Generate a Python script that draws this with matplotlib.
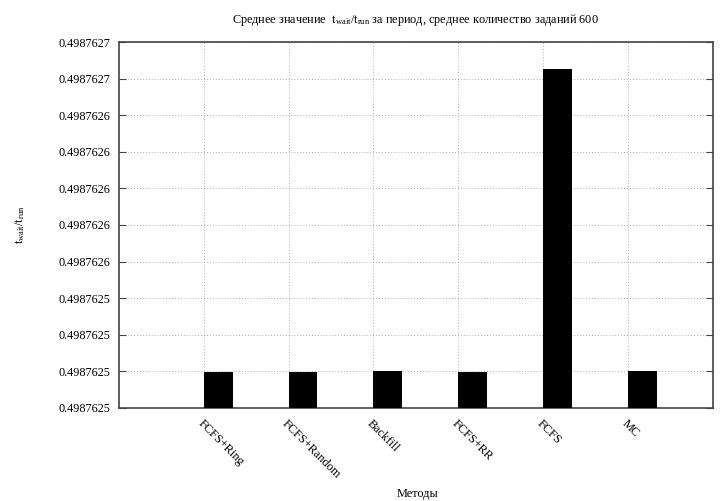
import matplotlib
matplotlib.use("Agg")
import matplotlib.pyplot as plt
from matplotlib.ticker import FormatStrFormatter, MultipleLocator

plt.rcParams['font.family'] = ['Liberation Serif', 'DejaVu Serif']
plt.rcParams['mathtext.fontset'] = 'custom'
plt.rcParams['mathtext.rm'] = 'Liberation Serif'
plt.rcParams['mathtext.it'] = 'Liberation Serif'

methods = ["FCFS+Ring", "FCFS+Random", "Backfill", "FCFS+RR", "FCFS", "MC"]
ratio = [0.4987624998, 0.4987624998, 0.4987625000, 0.4987624995, 0.4987626652, 0.4987625001]

fig = plt.figure(figsize=(7.2, 5.01), dpi=100)
ax = fig.add_axes([0.165, 0.186, 0.825, 0.730])

pos = list(range(len(methods)))
ax.bar(pos, ratio, width=0.34, align='edge', color='black', zorder=3)

ax.set_xlim(-1, 6)
ax.set_ylim(0.49876248, 0.49876268)
ax.yaxis.set_major_locator(MultipleLocator(0.00000002))
ax.yaxis.set_major_formatter(FormatStrFormatter('%.7f'))
ax.set_xticks(pos)
ax.set_xticklabels(methods, rotation=-45, ha='left', va='top', rotation_mode='anchor')

ax.grid(True, color='#b0b0b0', linestyle=(0, (1, 2)), linewidth=0.7, zorder=0)
ax.tick_params(axis='y', direction='in', length=5, right=True, labelsize=8.8, pad=6, color='#444444')
ax.tick_params(axis='x', direction='in', length=0, labelsize=8.8, pad=7)
for s in ax.spines.values():
    s.set_color('#444444')
    s.set_linewidth(1.2)

ax.set_title(r'Среднее значение  $\mathrm{t_{wait}/t_{run}}$ за период, среднее количество заданий 600',
             fontsize=8.8, pad=14)
fig.text(20 / 720, 1 - 225 / 501, r'$\mathrm{t_{wait}/t_{run}}$', fontsize=8.8,
         rotation=90, ha='center', va='center')
fig.text(418 / 720, 7 / 501, 'Методы', fontsize=8.8, ha='center', va='center')

fig.savefig("out.png", dpi=100)
